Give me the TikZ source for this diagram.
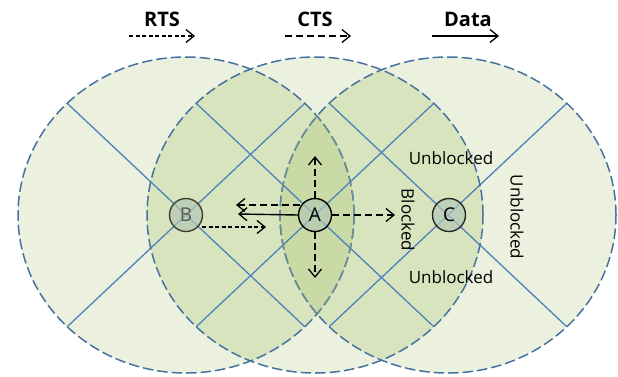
\documentclass[tikz,border=0pt]{standalone}
\usepackage{fontspec}
\setmainfont{Open Sans}
\usetikzlibrary{arrows.meta}
\definecolor{cone}{HTML}{EBF1DE}
\definecolor{ctwo}{HTML}{D8E4BE}
\definecolor{cthree}{HTML}{C9DAA6}
\definecolor{rim}{HTML}{45729F}
\definecolor{lensrim}{HTML}{6C8C96}
\definecolor{xline}{HTML}{4F81BD}
\definecolor{ndfill}{HTML}{B3C8B6}
\tikzset{
  rng/.style={draw=rim, line width=1.5pt, dash pattern=on 10.5pt off 4pt},
  lensedge/.style={draw=lensrim, line width=1.5pt, dash pattern=on 10.5pt off 4pt},
  xl/.style={draw=xline, line width=1.3pt},
  nd/.style={circle, draw=#1, fill=ndfill, fill opacity=0.7, text opacity=1, line width=1.4pt, minimum size=33pt, inner sep=0pt, font=\fontsize{19}{19}\selectfont},
  hd/.style={-{Straight Barb[length=8pt,width=13pt,line width=1.3pt]}},
  rts/.style={hd, line width=1.4pt, dash pattern=on 4pt off 2.5pt},
  cts/.style={hd, line width=1.4pt, dash pattern=on 7pt off 4pt},
  dat/.style={hd, line width=1.4pt},
  lbl/.style={font=\fontsize{17}{17}\selectfont, inner sep=0pt},
  leg/.style={font=\bfseries\fontsize{20}{20}\selectfont, inner sep=0pt}
}
\begin{document}
\begin{tikzpicture}[x=1pt,y=-1pt]
\useasboundingbox (0,0) rectangle (618,376);
\def\rx{168pt}\def\ry{158pt}
% fills
\fill[cone] (186,215) ellipse [x radius=\rx, y radius=\ry];
\fill[cone] (315,215) ellipse [x radius=\rx, y radius=\ry];
\fill[cone] (448,215) ellipse [x radius=\rx, y radius=\ry];
\begin{scope}
  \clip (186,215) ellipse [x radius=\rx, y radius=\ry];
  \fill[ctwo] (315,215) ellipse [x radius=\rx, y radius=\ry];
\end{scope}
\begin{scope}
  \clip (448,215) ellipse [x radius=\rx, y radius=\ry];
  \fill[ctwo] (315,215) ellipse [x radius=\rx, y radius=\ry];
\end{scope}
\begin{scope}
  \clip (186,215) ellipse [x radius=\rx, y radius=\ry];
  \clip (448,215) ellipse [x radius=\rx, y radius=\ry];
  \fill[cthree] (315,215) ellipse [x radius=\rx, y radius=\ry];
\end{scope}
% X lines
\foreach \cx in {186,315,448}{
  \coordinate (c) at (\cx,215);
  \draw[xl] ([shift={(-118.8,-111.7)}]c) -- ([shift={(118.8,111.7)}]c);
  \draw[xl] ([shift={(-118.8,111.7)}]c) -- ([shift={(118.8,-111.7)}]c);
}
% nodes
\node[nd=black!70!olive] (B) at (186,215) {\color{black!65}B};
\node[nd=black] (A) at (315,215) {A};
\node[nd=black!85] (C) at (449,215) {C};
% outlines
\draw[rng] (186,215) ellipse [x radius=\rx, y radius=\ry];
\draw[rng] (315,215) ellipse [x radius=\rx, y radius=\ry];
\draw[rng] (448,215) ellipse [x radius=\rx, y radius=\ry];
\begin{scope}
  \clip (448,215) ellipse [x radius=\rx, y radius=\ry];
  \draw[lensedge] (186,215) ellipse [x radius=\rx, y radius=\ry];
\end{scope}
\begin{scope}
  \clip (186,215) ellipse [x radius=\rx, y radius=\ry];
  \draw[lensedge] (448,215) ellipse [x radius=\rx, y radius=\ry];
\end{scope}
% arrow end points
\coordinate (bs) at (202,227);
\coordinate (be) at (266,227);
\coordinate (as1) at (300,205);
\coordinate (ae1) at (236,205);
\coordinate (ae2) at (238,214);
\coordinate (ae3) at (395,215);
\coordinate (ae4) at (315,156);
\coordinate (ae5) at (315,278);
\draw[rts] (bs) -- (be);
\draw[cts] (as1) -- (ae1);
\draw[dat] (A.west) -- (ae2);
\draw[cts] (A.east) -- (ae3);
\draw[cts] (A.north) -- (ae4);
\draw[cts] (A.south) -- (ae5);
% labels
\node[lbl] (u1) at (451,158) {Unblocked};
\node[lbl] (u2) at (451,277) {Unblocked};
\node[lbl, rotate=-90] (bl) at (408,220) {Blocked};
\node[lbl, rotate=-90] (u3) at (517,217) {Unblocked};
% legend
\node[leg] (lr) at (162,19) {RTS};
\node[leg] (lc) at (315,19) {CTS};
\node[leg] (ld) at (468,19) {Data};
\coordinate (r1) at (129,36); \coordinate (r2) at (195,36);
\coordinate (c1) at (285,36); \coordinate (c2) at (351,36);
\coordinate (d1) at (432,36); \coordinate (d2) at (499,36);
\draw[rts] (r1) -- (r2);
\draw[cts] (c1) -- (c2);
\draw[dat] (d1) -- (d2);
\end{tikzpicture}
\end{document}
